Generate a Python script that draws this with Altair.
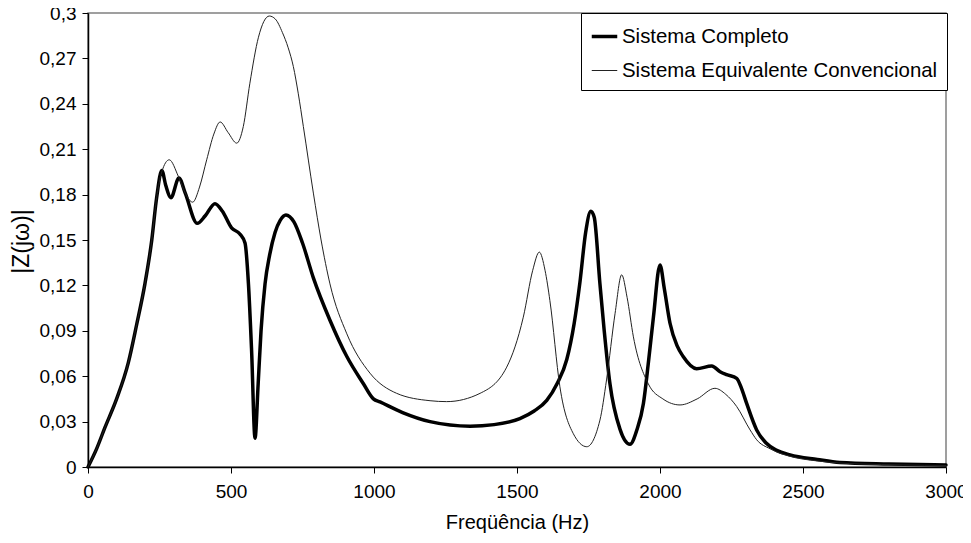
import altair as alt
import pandas as pd

# Sistema Completo (thick line)
f_completo = [0, 30, 59, 100, 141, 170, 199, 223, 240, 258, 272, 290, 318, 340, 382, 410, 444, 470,
              502, 531, 549, 561, 572, 584, 595, 605, 619, 635, 654, 672, 692, 720, 750, 788, 846,
              905, 963, 998, 1021, 1100, 1196, 1336, 1420, 1510, 1560, 1604, 1640, 1674, 1700, 1720,
              1740, 1758, 1770, 1790, 1805, 1825, 1860, 1895, 1920, 1942, 1960, 1977, 2000, 2015,
              2035, 2060, 2081, 2128, 2181, 2210, 2233, 2268, 2285, 2303, 2338, 2370, 2408, 2455,
              2550, 2629, 2800, 3000]
v_completo = [0.0, 0.012, 0.026, 0.045, 0.069, 0.094, 0.121, 0.150, 0.178, 0.196, 0.186, 0.178,
              0.191, 0.181, 0.161, 0.166, 0.174, 0.169, 0.158, 0.154, 0.148, 0.121, 0.077, 0.019,
              0.055, 0.090, 0.121, 0.140, 0.155, 0.163, 0.1666, 0.162, 0.148, 0.125, 0.097, 0.073,
              0.055, 0.045, 0.043, 0.036, 0.030, 0.027, 0.028, 0.032, 0.037, 0.044, 0.055, 0.071,
              0.095, 0.122, 0.155, 0.169, 0.165, 0.121, 0.090, 0.055, 0.025, 0.015, 0.025, 0.042,
              0.070, 0.099, 0.1335, 0.118, 0.095, 0.080, 0.073, 0.065, 0.0667, 0.063, 0.061, 0.0586,
              0.052, 0.042, 0.0245, 0.016, 0.011, 0.008, 0.005, 0.003, 0.002, 0.0013]

# Sistema Equivalente Convencional (thin line)
f_conv = [0, 30, 59, 100, 141, 170, 199, 223, 240, 258, 284, 316, 340, 366, 390, 415, 440, 462, 490,
          520, 543, 566, 596, 634, 655, 680, 700, 718, 735, 753, 788, 815, 846, 905, 986, 1079,
          1196, 1254, 1371, 1464, 1522, 1555, 1578, 1598, 1615, 1650, 1697, 1744, 1790, 1813, 1843,
          1866, 1885, 1907, 1959, 2010, 2070, 2130, 2192, 2230, 2268, 2315, 2338, 2385, 2455, 2550,
          2700, 3000]
v_conv = [0.0, 0.012, 0.026, 0.045, 0.069, 0.094, 0.121, 0.150, 0.178, 0.195, 0.203, 0.192, 0.181,
          0.175, 0.185, 0.203, 0.220, 0.228, 0.221, 0.214, 0.225, 0.2536, 0.284, 0.298, 0.296,
          0.287, 0.277, 0.2646, 0.247, 0.225, 0.181, 0.150, 0.121, 0.088, 0.062, 0.0487, 0.0438,
          0.0432, 0.0487, 0.066, 0.099, 0.130, 0.142, 0.130, 0.110, 0.053, 0.022, 0.0134, 0.031,
          0.0575, 0.1016, 0.127, 0.112, 0.086, 0.055, 0.045, 0.041, 0.045, 0.052, 0.048, 0.040,
          0.0245, 0.018, 0.012, 0.007, 0.004, 0.002, 0.001]

series_names = ["Sistema Completo", "Sistema Equivalente Convencional"]
x_ticks = [0, 500, 1000, 1500, 2000, 2500, 3000]
y_ticks = [0, 0.03, 0.06, 0.09, 0.12, 0.15, 0.18, 0.21, 0.24, 0.27, 0.3]

df = pd.concat([
    pd.DataFrame({"f": f_completo, "v": v_completo, "s": series_names[0], "o": 1}),
    pd.DataFrame({"f": f_conv, "v": v_conv, "s": series_names[1], "o": 0}),
])

FONT = "Liberation Sans"

chart = alt.Chart(df).mark_line(interpolate="monotone", strokeCap="round", strokeJoin="round").encode(
    x=alt.X("f:Q", scale=alt.Scale(domain=[0, 3000], nice=False),
            axis=alt.Axis(values=x_ticks, format="d", title="Freqüência (Hz)", grid=False,
                          domainColor="black", tickColor="black", tickSize=6,
                          labelFontSize=19, titleFontSize=20, labelPadding=9, titlePadding=11,
                          labelFlush=False, labelOverlap=False,
                          labelColor="black", titleColor="black", titleFontWeight="normal",
                          labelFont=FONT, titleFont=FONT)),
    y=alt.Y("v:Q", scale=alt.Scale(domain=[0, 0.3], nice=False),
            axis=alt.Axis(values=y_ticks, labelExpr="replace(format(datum.value, '~g'), '.', ',')",
                          title="|Z(jω)|", grid=False, domainColor="black", tickColor="black",
                          tickSize=6, labelFontSize=19, titleFontSize=23, labelPadding=6,
                          labelFlush=False, labelOverlap=False,
                          labelColor="black", titleColor="black", titleFontWeight="normal",
                          titleX=-67, titleY=228, titleAngle=270, titleAlign="center",
                          titleBaseline="middle", labelFont=FONT, titleFont=FONT)),
    color=alt.Color("s:N", scale=alt.Scale(domain=series_names, range=["black", "#222222"]),
                    legend=alt.Legend(title=None)),
    strokeWidth=alt.StrokeWidth("s:N", scale=alt.Scale(domain=series_names, range=[3.5, 1]),
                                legend=alt.Legend(title=None)),
    detail="s:N",
    order="o:Q",
).properties(
    width=858, height=454,
    autosize=alt.AutoSizeParams(type="none"),
    padding={"left": 80, "top": 5, "right": 17, "bottom": 68},
).configure_view(
    stroke="#808080", strokeWidth=1.5
).configure_axis(
    domainWidth=1.5
).configure_legend(
    orient="none", legendX=493, legendY=0, strokeColor="black", fillColor="white",
    padding=9, rowPadding=10, symbolType="stroke", symbolSize=650, labelFontSize=20.4,
    labelFont=FONT, labelColor="black", labelLimit=600, labelOffset=3, cornerRadius=0
)

chart.save("out.html", embed_options={"renderer": "svg", "actions": False})
